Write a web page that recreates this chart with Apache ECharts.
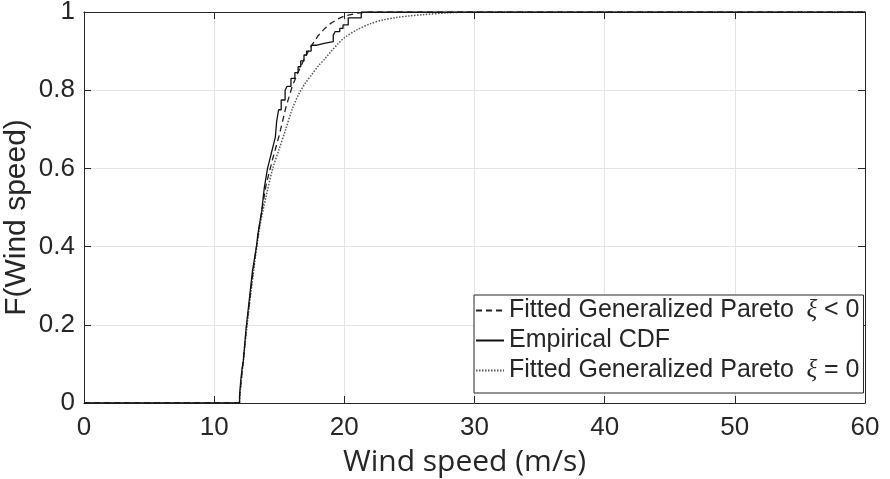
<!DOCTYPE html>
<html>
<head>
<meta charset="utf-8">
<script src="https://cdn.jsdelivr.net/npm/echarts@6/dist/echarts.min.js"></script>
<style>
  html, body { margin: 0; padding: 0; background: #fff; }
  #chart { width: 890px; height: 479px; }
</style>
</head>
<body>
<div id="chart"></div>
<script>
// ---------------- data ----------------
let x_ticks = [0, 10, 20, 30, 40, 50, 60];
let y_ticks = [0, 0.2, 0.4, 0.6, 0.8, 1];

// Fitted GPD, xi < 0 (dashed)
let gp_neg_x = [0, 11.9, 12.0, 12.5, 13.0, 13.5, 14.0, 14.5, 15.0, 15.5, 16.0, 16.5, 17.0, 17.5, 18.0, 18.5, 19.0, 19.5, 20.0, 21.0, 22.0, 60];
let gp_neg_y = [0, 0, 0.03, 0.2, 0.34, 0.46, 0.56, 0.625, 0.685, 0.755, 0.81, 0.85, 0.885, 0.915, 0.94, 0.958, 0.972, 0.982, 0.99, 0.997, 1, 1];

// Empirical CDF (steps, value after each jump)
let emp_x = [0, 11.95, 12.05, 12.15, 12.25, 12.35, 12.45, 12.55, 12.65, 12.75, 12.85, 12.95, 13.05, 13.15, 13.25, 13.35, 13.45, 13.55, 13.65, 13.75, 13.85, 13.95, 14.1, 14.25, 14.4, 14.55, 14.7, 14.8, 14.95, 15.15, 15.45, 15.6, 15.9, 16.2, 16.45, 16.65, 16.9, 17.1, 17.45, 17.9, 18.45, 19.15, 19.3, 19.65, 19.9, 20.3, 21.3, 60];
let emp_y = [0, 0.02, 0.06, 0.09, 0.11, 0.15, 0.19, 0.22, 0.25, 0.28, 0.31, 0.34, 0.36, 0.38, 0.40, 0.43, 0.45, 0.47, 0.49, 0.52, 0.55, 0.57, 0.60, 0.62, 0.64, 0.66, 0.68, 0.72, 0.75, 0.775, 0.80, 0.81, 0.83, 0.845, 0.86, 0.875, 0.89, 0.90, 0.915, 0.92, 0.924, 0.941, 0.95, 0.958, 0.967, 0.985, 1, 1];

// Fitted GPD, xi = 0 (dotted)
let gp_zero_x = [0, 11.9, 12.0, 12.5, 13.0, 13.5, 14.0, 14.5, 15.0, 15.5, 16.0, 16.5, 17.0, 17.5, 18.0, 18.5, 19.0, 19.5, 20.0, 21.0, 22.0, 23.0, 24.0, 25.0, 26.0, 28.0, 30.0, 60];
let gp_zero_y = [0, 0, 0.03, 0.19, 0.33, 0.45, 0.53, 0.6, 0.65, 0.70, 0.752, 0.79, 0.818, 0.84, 0.862, 0.88, 0.9, 0.918, 0.934, 0.955, 0.97, 0.98, 0.986, 0.99, 0.993, 0.998, 1, 1];

let legend_names = ['Fitted Generalized Pareto ξ < 0', 'Empirical CDF', 'Fitted Generalized Pareto ξ = 0'];

function zip(xs, ys) {
    return xs.map(function (x, i) { return [x, ys[i]]; });
}

// ---------------- chart ----------------
let chart_dom = document.getElementById('chart');
let chart = echarts.init(chart_dom);

let text_color = '#262626';
let axis_color = '#262626';
let grid_color = '#e3e3e3';

let common_axis = {
    axisLine: { show: true, onZero: false, lineStyle: { color: axis_color, width: 1 } },
    axisTick: { show: true, inside: true, length: 7, lineStyle: { color: axis_color } },
};

let option = {
    backgroundColor: '#fff',
    animation: false,
    grid: { left: 84, right: 25, top: 12, bottom: 76, outerBoundsMode: 'none', containLabel: false },
    legend: {
        orient: 'vertical',
        left: 474,
        top: 295,
        data: legend_names,
        itemWidth: 28,
        itemHeight: 14,
        itemGap: 5,
        padding: [3, 4, 10, 1],
        backgroundColor: '#fff',
        borderColor: axis_color,
        borderWidth: 1,
        borderRadius: 0,
        itemStyle: { opacity: 0 },
        formatter: function (name) {
            let i = name.indexOf(' ξ');
            if (i < 0) return '{a|' + name + '}';
            return '{a|' + name.slice(0, i) + '}{b|  ξ}{c|' + name.slice(i + 2) + '}';
        },
        textStyle: {
            color: text_color,
            rich: {
                a: { fontFamily: 'Liberation Sans', fontSize: 25, lineHeight: 28, color: text_color },
                b: { fontFamily: 'Liberation Serif', fontStyle: 'italic', fontSize: 25, lineHeight: 28, color: text_color },
                c: { fontFamily: 'Liberation Sans', fontSize: 25, lineHeight: 28, color: text_color }
            }
        }
    },
    xAxis: [
        Object.assign({
            type: 'value',
            min: 0, max: 60, interval: 10,
            name: 'Wind speed (m/s)',
            nameLocation: 'middle',
            nameGap: 44,
            nameMoveOverlap: false,
            nameTextStyle: { fontFamily: 'Open Sans', fontSize: 30, color: text_color, padding: [0, 20, 0, 0] },
            axisLabel: { margin: 12, fontFamily: 'Liberation Sans', fontSize: 26, color: text_color },
            splitLine: { show: true, lineStyle: { color: grid_color, width: 1 } }
        }, common_axis),
        Object.assign({
            type: 'value', position: 'top',
            min: 0, max: 60, interval: 10,
            axisLabel: { show: false },
            splitLine: { show: false }
        }, common_axis)
    ],
    yAxis: [
        Object.assign({
            type: 'value',
            min: 0, max: 1, interval: 0.2,
            name: 'F(Wind speed)',
            nameLocation: 'middle',
            nameGap: 52,
            nameMoveOverlap: false,
            nameTextStyle: { fontFamily: 'Liberation Sans', fontSize: 30, color: text_color, padding: [0, 20, 0, 0] },
            axisLabel: { margin: 9, fontFamily: 'Liberation Sans', fontSize: 26, color: text_color },
            splitLine: { show: true, lineStyle: { color: grid_color, width: 1 } }
        }, common_axis),
        Object.assign({
            type: 'value', position: 'right',
            min: 0, max: 1, interval: 0.2,
            axisLabel: { show: false },
            splitLine: { show: false }
        }, common_axis)
    ],
    series: [
        {
            name: legend_names[0],
            type: 'line',
            symbol: 'none',
            data: zip(gp_neg_x, gp_neg_y),
            lineStyle: { color: '#222', width: 1.3, type: [6, 4] },
            itemStyle: { color: '#222' },
            z: 3
        },
        {
            name: legend_names[1],
            type: 'line',
            symbol: 'none',
            step: 'end',
            data: zip(emp_x, emp_y),
            lineStyle: { color: '#111', width: 1.3 },
            itemStyle: { color: '#111' },
            z: 4
        },
        {
            name: legend_names[2],
            type: 'line',
            symbol: 'none',
            smooth: 0.3,
            data: zip(gp_zero_x, gp_zero_y),
            lineStyle: { color: '#555', width: 1.5, type: [1.5, 1.5] },
            itemStyle: { color: '#555' },
            z: 2
        }
    ]
};

if (option && typeof option === 'object') {
    chart.setOption(option, true);
}
</script>
</body>
</html>
